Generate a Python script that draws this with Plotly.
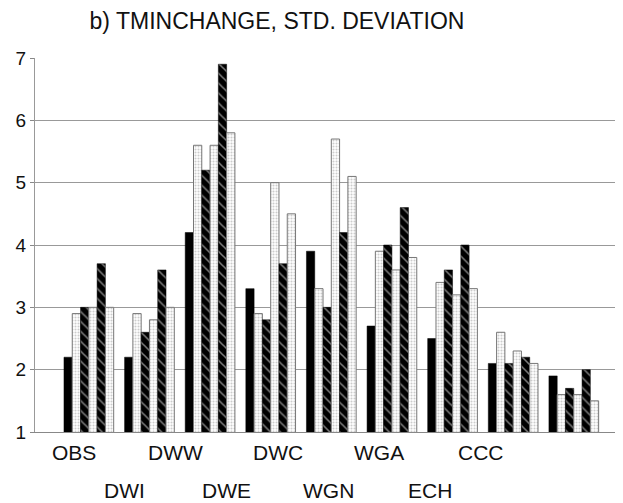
import plotly.graph_objects as go

categories = ["OBS", "DWI", "DWW", "DWE", "DWC", "WGN", "WGA", "ECH", "CCC"]
s1 = [2.2, 2.2, 4.2, 3.3, 3.9, 2.7, 2.5, 2.1, 1.9]
s2 = [2.9, 2.9, 5.6, 2.9, 3.3, 3.9, 3.4, 2.6, 1.6]
s3 = [3.0, 2.6, 5.2, 2.8, 3.0, 4.0, 3.6, 2.1, 1.7]
s4 = [3.0, 2.8, 5.6, 5.0, 5.7, 3.6, 3.2, 2.3, 1.6]
s5 = [3.7, 3.6, 6.9, 3.7, 4.2, 4.6, 4.0, 2.2, 2.0]
s6 = [3.0, 3.0, 5.8, 4.5, 5.1, 3.8, 3.3, 2.1, 1.5]
series = [s1, s2, s3, s4, s5, s6]
y_ticks = [1, 2, 3, 4, 5, 6, 7]

# page body has an 8px margin, so the figure is shifted by OFF
OFF = 8
W, H = 623 - OFF, 503 - OFF
ML, MR, MT, MB = 33 - OFF, 8, 58 - OFF, 71
pw = W - ML - MR
ph = H - MT - MB

xpos = list(range(len(categories)))

solid = dict(color="black", line=dict(color="black", width=0.5))
hatch = dict(color="black", line=dict(color="black", width=0.5),
             pattern=dict(shape="\\", bgcolor="black", fgcolor="white", size=7, solidity=0.22))
stip = dict(color="white", line=dict(color="#777", width=1),
            pattern=dict(shape=".", bgcolor="white", fgcolor="#999", size=3, solidity=0.4))
styles = [solid, stip, hatch, stip, hatch, stip]

fig = go.Figure()
for vals, st in zip(series, styles):
    fig.add_trace(go.Bar(x=xpos, y=vals, marker=st, showlegend=False))

# staggered category labels (placed as in original, offset from the groups)
lab_x0, lab_dx = 72 - OFF, 51.1
row_y = [452 - OFF, 490 - OFF]
for i, c in enumerate(categories):
    px = lab_x0 + lab_dx * i
    py = row_y[i % 2]
    fig.add_annotation(x=(px - ML) / pw, y=(MT + ph - py) / ph, xref="paper", yref="paper",
                       text=c, showarrow=False, xanchor="center", yanchor="middle",
                       font=dict(family="Liberation Sans, Arial", size=21, color="#111"))

fig.update_layout(
    width=W, height=H,
    margin=dict(l=ML, r=MR, t=MT, b=MB),
    paper_bgcolor="white", plot_bgcolor="white",
    barmode="group", bargap=0.18, bargroupgap=0,
    title=dict(text="b) TMINCHANGE, STD. DEVIATION", x=(277 - OFF) / W, xanchor="center",
               y=1 - (21 - OFF) / H, yanchor="middle",
               font=dict(family="Liberation Sans, Arial", size=23, color="#111")),
    xaxis=dict(range=[-0.888, 8.68], showticklabels=False, ticks="", showgrid=False,
               showline=True, linecolor="#888", linewidth=1, zeroline=False),
    yaxis=dict(range=[1, 7], tickvals=y_ticks, ticks="outside", ticklen=4, tickcolor="#888",
               showline=True, linecolor="#999", linewidth=1, showgrid=True,
               gridcolor="#999", gridwidth=1, zeroline=False,
               tickfont=dict(family="Liberation Sans, Arial", size=19, color="#111")),
)

fig.write_html("out.html")
